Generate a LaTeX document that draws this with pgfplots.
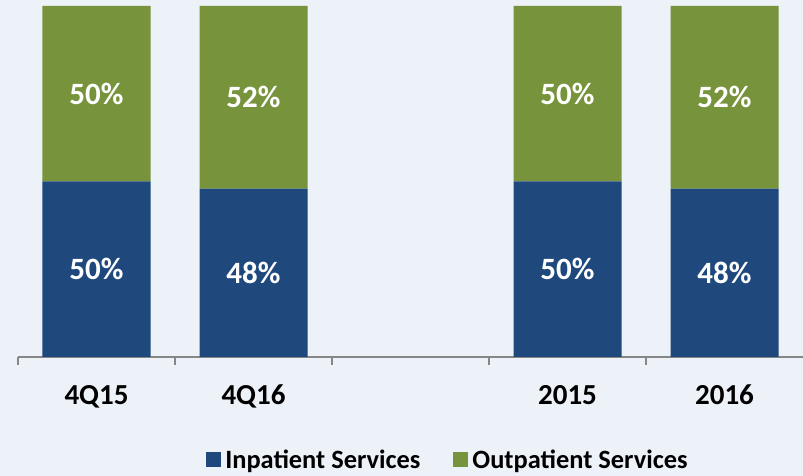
\documentclass[border=0pt]{standalone}
\usepackage{pgfplots}
\pgfplotsset{compat=1.18}
\usepackage{fontspec}
\setmainfont{Carlito}
\definecolor{bg}{RGB}{237,241,248}
\definecolor{inblue}{RGB}{31,73,125}
\definecolor{outgreen}{RGB}{119,147,60}
\definecolor{axgrey}{RGB}{134,134,134}
\begin{document}
\begin{tikzpicture}[x=1pt,y=1pt]
\fill[bg] (-18,-119) rectangle (785,357);
\begin{axis}[
 scale only axis, width=785pt, height=351pt,
 at={(0,0)}, anchor=south west,
 xmin=-0.5, xmax=4.5, ymin=0, ymax=100,
 ybar stacked, bar width=108pt,
 axis x line*=bottom, axis y line=none,
 axis line style={axgrey, line width=1.2pt, -},
 xtick={0,1,2,3,4}, xticklabels={4Q15,4Q16,,2015,2016},
 major tick length=0pt,
 minor xtick={-0.5,0.5,1.5,2.5,3.5},
 minor tick length=8pt,
 xtick align=outside,
 minor tick style={axgrey, line width=1.2pt},
 /pgf/number format/assume math mode=true,
 xticklabel style={font=\bfseries\fontsize{29}{29}\selectfont, anchor=base, yshift=-47pt},
 visualization depends on={rawy \as \rawy},
 nodes near coords={\pgfmathprintnumber[assume math mode=true]{\rawy}\%},
 every node near coord/.append style={text=white, font=\bfseries\fontsize{31}{31}\selectfont, anchor=center},
 legend style={at={(0.549,-0.293)}, anchor=center, draw=none, fill=none, legend columns=2,
   font=\bfseries\fontsize{26.4}{26.4}\selectfont,
   /tikz/every even column/.append style={column sep=29pt},
   nodes={inner sep=4pt}},
 legend image code/.code={\fill[#1, draw=none] (0pt,-7.5pt) rectangle (15pt,7.5pt);},
]
\addplot[fill=inblue, draw=none] coordinates {(0,50) (1,48) (3,50) (4,48)};
\addplot[fill=outgreen, draw=none] coordinates {(0,50) (1,52) (3,50) (4,52)};
\legend{Inpatient Services, Outpatient Services}
\end{axis}
\pgfresetboundingbox
\useasboundingbox (-18,-119) rectangle (785,357);
\end{tikzpicture}
\end{document}
